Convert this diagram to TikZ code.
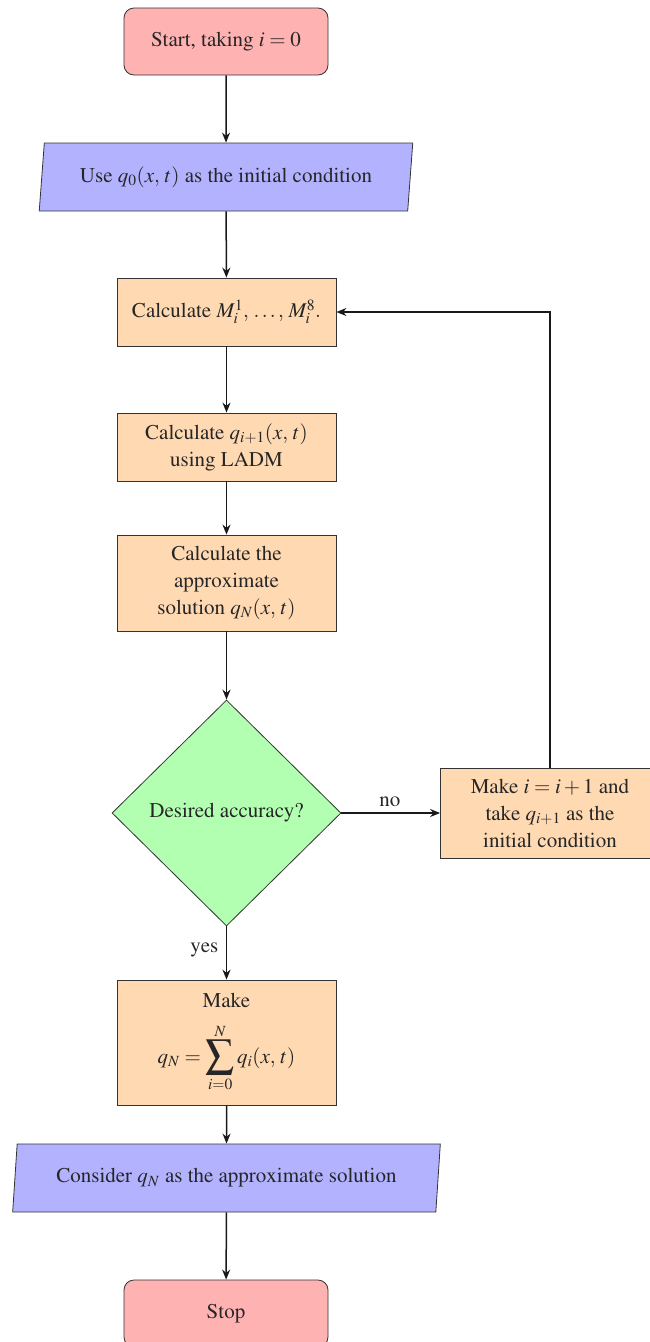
\documentclass[tikz,border=0pt]{standalone}
\usepackage[T1]{fontenc}
\usepackage{mathptmx}
\usepackage{graphicx}
\usetikzlibrary{shapes.geometric,arrows.meta}
\newcommand{\bigsum}{\mathop{\vcenter{\hbox{\scalebox{1.35}{$\displaystyle\sum$}}}}\limits}
\begin{document}
\begin{tikzpicture}[x=1pt,y=-1pt,
 base/.style={draw=black!80, line width=0.8pt, font=\fontsize{21}{27}\selectfont, align=center, inner sep=0pt, text=black!85},
 term/.style={base, rectangle, rounded corners=10pt, fill=red!30, minimum width=204pt, minimum height=67pt},
 io/.style={base, trapezium, trapezium left angle=79, trapezium right angle=101, trapezium stretches=true, fill=blue!30, minimum height=68pt},
 proc/.style={base, rectangle, fill=orange!30, minimum width=219pt},
 dec/.style={base, diamond, fill=green!30, minimum width=229pt, minimum height=226pt},
 arr/.style={-{Stealth[length=10pt,width=8pt]}, line width=1.5pt, black!90},
 lbl/.style={font=\fontsize{21}{27}\selectfont, text=black!85}]
\useasboundingbox (0,0) rectangle (649,1342);
\node[term] (start) at (226,41.5) {Start, taking $i=0$};
\node[io, minimum width=374pt] (in1) at (226,177) {Use $q_0(x,\,t)$ as the initial condition};
\node[proc, minimum height=68pt] (calcM) at (226.5,312) {Calculate $M_i^1,\,\ldots,\,M_i^8.$};
\node[proc, minimum height=68pt] (calcQ) at (226.5,447) {Calculate $q_{i+1}(x,\,t)$\\using LADM};
\node[proc, minimum height=96pt] (calcA) at (226.5,583) {Calculate the\\approximate\\solution $q_N(x,\,t)$};
\node[dec] (dec) at (226.5,813) {Desired accuracy?};
\node[proc, minimum height=90pt] (makeI) at (550,813) {Make $i=i+1$ and\\take $q_{i+1}$ as the\\initial condition};
\node[proc, minimum height=125pt] (make) at (226.5,1042.5) {Make\\[15pt]$\displaystyle q_N=\bigsum_{i=0}^{N} q_i(x,\,t)$};
\node[io, minimum width=429pt] (in2) at (226.5,1178) {Consider $q_N$ as the approximate solution};
\node[term] (stop) at (226,1313.5) {Stop};
\draw[arr] (start) -- (in1);
\draw[arr] (in1) -- (calcM);
\draw[arr] (calcM) -- (calcQ);
\draw[arr] (calcQ) -- (calcA);
\draw[arr] (calcA) -- (dec);
\draw[arr] (dec) -- node[lbl, pos=0.49, above=2pt] (no) {no} (makeI);
\draw[arr] (dec) -- node[lbl, pos=0.45, left=4pt] (yes) {yes} (make);
\draw[arr] (makeI.north) -- (makeI.north |- calcM.east) -- (calcM.east);
\draw[arr] (make) -- (in2);
\draw[arr] (in2) -- (stop);
\end{tikzpicture}
\end{document}
